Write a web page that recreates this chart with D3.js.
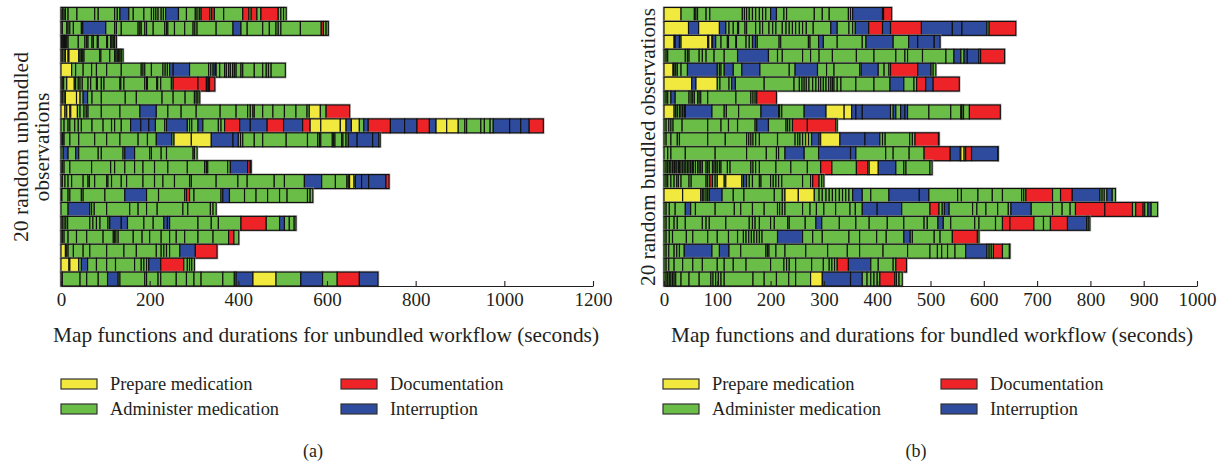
<!DOCTYPE html>
<html><head><meta charset="utf-8">
<script src="https://cdn.jsdelivr.net/npm/d3@7"></script>
<style>
body{margin:0;background:#fff}
svg{display:block}
text{font-family:"Liberation Serif","Times New Roman",serif;fill:#231f20}
</style>
</head><body>
<svg id="c" width="1230" height="466"></svg>
<script>
// ---------- DATA ----------
const categories = ["Prepare medication", "Administer medication", "Documentation", "Interruption"];
const categoryCodes = ["P", "A", "D", "I"];
const categoryColors = ["#F1E93D", "#6ABD46", "#ED2327", "#2E4B9E"];

const unbundledTicks = [0, 200, 400, 600, 800, 1000, 1200];
const bundledTicks = [0, 100, 200, 300, 400, 500, 600, 700, 800, 900, 1000];

// each token: activity code + end time (seconds); a segment starts where the previous one ended
const unbundledRows = [
"A3 A7 A10 A16 A36 A76 A84 A121 A127 A133 I153 A163 A187 A204 A209 A214 A219 A226 A231 A236 I265 A283 A303 A307 A312 A316 D336 A340 D346 A367 A410 D424 A429 D442 A451 D490 A496 A502 A508",
"A3 A13 A16 A20 A28 A46 A49 I101 A121 A125 A136 A174 A178 A181 A189 A193 A208 A234 A238 A241 A256 A279 A298 A302 A307 A350 A388 I406 A420 A455 A470 A485 A490 A496 A540 A587 D592 A598 A603",
"A2 A4 A6 A8 A10 A13 A16 A39 A54 A58 A61 A70 A73 A82 A84 A103 A105 A112 A115 A118 A121 A125",
"A3 P7 A10 P16 A18 P40 A43 A46 A49 A52 A87 A90 A110 A121 A124 A127 A130 A133 A136 A140",
"P24 A33 A50 A69 A80 A103 A136 A181 A185 A189 A204 A230 A235 A240 A245 I253 I290 A333 A338 A343 I348 A350 A358 A369 A373 A378 A382 A387 A391 A395 A406 A410 A436 A455 A463 A468 A474 A506",
"A3 P6 A13 P30 A33 A39 A43 A48 A61 A67 A80 A82 A91 A97 A133 A135 A142 A189 A193 A195 A216 A218 A225 A249 A253 D309 D328 A330 P333 A335 D347",
"A3 P7 A10 P35 P43 A50 I60 A70 A91 A145 A170 A228 A253 A280 A301 A305 A309 A313",
"P9 A13 P20 A22 P37 A43 A52 A57 A61 A91 A133 A178 I215 A241 A271 A305 A359 A395 A421 A427 A433 A436 A455 A478 A504 A530 A555 A560 P585 A598 D651",
"A7 A16 A20 A31 A39 A46 A70 A95 A114 A121 A136 A157 I180 I198 I213 A234 A238 I285 A290 A295 A309 I320 A355 A361 A369 D403 I427 I465 D502 I545 D562 P586 P630 P643 I655 P673 A683 I693 D743 I775 I803 D831 I846 P870 P896 A911 A915 A947 A955 A968 A975 I1012 I1037 I1056 D1088",
"A3 I7 A20 A40 A76 A103 A133 A174 A195 A215 I250 A255 P294 P339 I388 I400 A405 A410 A436 A455 A508 A556 A579 A583 A586 A612 A615 A618 A633 A636 A643 A648 I668 I703 I717 A720",
"A5 I16 A33 I40 A84 A91 A140 A144 I166 A200 A204 A226 A238 A298 A301 A307",
"A3 A7 A20 A69 A112 A121 A144 A166 A185 A211 A241 A285 A324 A328 A331 A376 A382 I421 D427 A429",
"A3 A9 A16 A24 A50 A61 A64 A76 A103 A106 A114 A136 A148 A185 A211 A230 A256 A290 A294 A350 A399 A420 A481 A504 A549 I588 A619 A645 A648 A651 P661 A664 I678 I694 I733 D740",
"A2 A16 A20 A46 A50 A99 A144 I193 A220 A279 A283 D290 A300 A361 A365 I380 A414 A440 A466 A493 A510 A556 A562 A568",
"A16 I65 A69 A75 A103 A155 A174 A193 A217 A275 A286 A337 A343 A350",
"A3 P7 A11 A15 A65 A72 A80 A88 A106 A110 I136 I150 A187 A208 A232 I240 I245 A309 A339 A355 A406 D463 A493 I504 A515 A526 A530",
"A3 A7 A16 A35 A58 A95 A118 A121 P124 A129 A163 A183 A200 A226 A245 A260 A279 A309 A343 A378 D390 A401",
"P10 A13 P16 A28 A50 A65 A103 A142 A170 A215 A226 A232 A238 A245 A268 I303 D352",
"P18 A20 P40 A46 I60 A80 A103 A123 A166 A181 A187 A193 A198 I225 D277 A285 A290 A295 A301",
"A3 A43 A58 A84 A105 I129 A133 A189 A193 A219 A225 A260 A283 A300 A316 A365 A391 A395 I433 P485 A541 I590 A623 D673 I715"
];

const bundledRows = [
"P32 A57 A60 A63 A79 A86 A147 A151 A155 A160 A166 A172 A179 A185 A191 A200 I211 A225 A230 A282 A297 A310 A346 A350 A354 I410 A412 D427",
"P46 I65 P104 I116 A122 A130 A138 A140 A152 A155 A172 A180 A185 A197 A204 A210 A222 A229 A235 A241 A247 A254 A260 A267 A280 A313 I325 A347 A354 A359 I384 D410 I425 D483 I541 I559 I606 A610 D660",
"P19 A21 I29 A32 P82 A84 P90 A91 I97 A107 A119 A121 A135 A136 A154 A160 A166 I172 A175 A216 A219 A271 A274 A290 I299 A325 A372 A379 I430 A459 I476 I507 I518",
"A4 A7 A40 A44 A47 A66 A72 A79 A94 A113 A138 I196 A213 A222 A260 A275 A291 A316 A361 A394 A435 A452 A457 A485 A529 A544 I557 A563 I569 I591 A594 D639",
"P17 A19 A22 A25 A32 A44 I100 A104 A107 A113 I130 A146 I180 A235 A246 I288 A305 A319 A367 A370 I402 A413 A422 A425 D476 I501 A505 A510",
"P52 I60 P100 A105 A122 A127 I134 A188 A244 A254 A259 A263 A267 A272 A279 A285 A290 A294 A299 A304 A309 A313 A316 A319 A325 A332 A360 A394 A424 I450 A469 A474 D491 I505 D554",
"A4 A7 A13 I21 A47 A51 A54 A57 A63 A66 A69 A82 A135 A163 A167 A171 A174 D211",
"P19 A22 A25 A29 A32 A35 A38 A40 I90 A113 A117 A140 A182 I215 A217 A221 A263 I304 P338 P352 I360 I372 I425 A430 I435 A444 I452 I457 A497 A538 A557 A559 A562 A573 D631",
"A4 A9 A13 A17 A34 A82 A107 A121 A138 A171 A174 I196 A229 A232 A236 A241 D269 D322 A325",
"A4 A13 A25 A29 A82 A115 A155 A159 A163 A167 A172 A179 A213 A246 A251 A255 A260 A266 P271 A277 I291 A294 P330 I377 I405 A410 A415 A461 A466 A471 D515 A516",
"A7 A13 A40 A96 A155 A192 A211 A215 A227 I263 A290 I350 I360 A416 A430 A460 A488 D537 I556 A557 P563 A566 D577 I626 A627",
"A4 A7 A10 A13 A16 A19 A21 A24 A27 A29 A32 A35 A38 A41 A44 A47 A50 A53 A55 A59 A63 A66 A69 A72 A79 A82 A85 A91 A94 A97 A100 A104 A107 A119 A124 A163 A167 A172 A179 A210 A238 A269 A294 D315 A361 D382 A385 P402 I435 A450 A454 A499 A503",
"A4 A7 A13 A19 A24 A27 A32 A47 A51 A79 A82 A86 D91 A96 A100 P113 A116 P146 A149 I155 A160 A166 A179 A182 A200 A205 A210 A215 A221 A260 A275 A279 D291 A296 A300",
"P35 P69 A72 A75 A79 A82 A85 I109 A130 A150 A207 A222 A227 P252 P282 A291 A297 A304 A310 A316 A322 A329 A335 A341 A347 A354 I372 A388 A422 I479 I497 A551 A558 A589 A616 A635 A671 A675 A679 D729 A744 D766 I818 A822 A826 A831 I841 A847",
"A4 A10 A21 A40 I50 A59 A96 A132 A144 A166 A188 A213 A217 A222 A227 A260 A274 A286 A300 A322 A349 A359 A372 I400 I446 A499 D516 A522 A526 I535 A579 A587 A604 A626 A646 A651 I689 A729 A747 A762 A772 D827 D879 A885 D899 A902 A908 I914 A926",
"A4 A10 A19 A25 A40 A72 A79 A85 A116 A160 A166 A171 A179 A200 A207 A232 A235 A265 A285 I296 A329 A360 A385 A419 A450 A488 A494 A514 I524 A538 A583 A591 A622 A635 D649 D694 A712 A725 D757 I793 A796 A799",
"A4 A10 A16 A42 A54 A82 A100 A121 A138 A149 A154 A159 A164 A169 A174 A179 A184 A213 I260 A279 A297 A347 A367 A399 A417 A450 I462 A466 A507 A518 A541 D588 A591",
"A4 A9 A19 A24 A29 A38 I90 A104 I122 A144 A191 A194 A197 A210 A227 A266 A307 A344 A367 A411 A457 A499 A513 A521 A532 A546 A566 I606 A610 A614 A618 D635 A648 A649",
"A4 A9 A19 A35 A54 A72 A100 A113 A130 A154 A200 A225 A230 A235 A247 A277 A299 A310 A315 A320 A325 D346 I388 A402 A430 A435 D455",
"A4 A7 A10 A13 A16 A19 A22 A32 A47 A66 A88 A92 A97 A102 A107 A113 A167 A188 A211 A234 A247 A275 P297 I350 I372 A381 A388 A394 A400 A405 D433 A436 A441 A447"
];

// ---------- DRAWING ----------
const svg = d3.select("#c");
const colorOf = d3.scaleOrdinal().domain(categoryCodes).range(categoryColors);

function parseRow(str) {
  let prev = 0;
  return str.split(" ").map(tok => {
    const seg = { code: tok[0], start: prev, end: +tok.slice(1) };
    prev = seg.end;
    return seg;
  });
}

function drawPanel(cfg) {
  const g = svg.append("g");
  const x = d3.scaleLinear().domain(cfg.domain).range(cfg.range);
  const y = d3.scaleBand().domain(d3.range(cfg.rows.length)).range([7.5, 286]).paddingInner(0);
  const rows = cfg.rows.map(parseRow);

  const rowG = g.selectAll("g.row").data(rows).join("g").attr("class", "row")
    .attr("transform", (d, i) => `translate(0,${y(i)})`);

  // soft halo around each bar
  rowG.append("rect")
    .attr("x", x(0)).attr("y", 0)
    .attr("width", d => x(d[d.length - 1].end) - x(0))
    .attr("height", y.bandwidth())
    .attr("fill", "none").attr("stroke", "#9a9a9a").attr("stroke-width", 2.6).attr("stroke-opacity", 0.7);

  rowG.selectAll("rect.seg").data(d => d).join("rect").attr("class", "seg")
    .attr("x", d => x(d.start))
    .attr("y", 0)
    .attr("width", d => Math.max(0, x(d.end) - x(d.start)))
    .attr("height", y.bandwidth())
    .attr("fill", d => colorOf(d.code))
    .attr("stroke", "#111").attr("stroke-width", 1.15);

  // axis
  const axis = d3.axisBottom(x).tickValues(cfg.ticks).tickFormat(d3.format("d"))
    .tickSizeInner(-5).tickSizeOuter(0).tickPadding(7);
  const ag = g.append("g").attr("transform", "translate(0,286)").call(axis);
  ag.select(".domain").attr("stroke", "#231f20").attr("stroke-width", 1.1);
  ag.selectAll(".tick line").attr("stroke", "#231f20").attr("stroke-width", 1.1);
  ag.selectAll(".tick text").attr("font-size", 19).attr("font-family", "Liberation Serif, serif").attr("fill", "#231f20");

  // x label
  g.append("text").attr("x", cfg.xLabelX).attr("y", 342).attr("text-anchor", "middle")
    .attr("font-size", 21).attr("textLength", cfg.xLabelLen).attr("lengthAdjust", "spacingAndGlyphs")
    .text(cfg.xLabel);

  // y label
  cfg.yLabel.forEach((line, i) => {
    g.append("text").attr("transform", `translate(${cfg.yLabelX[i]},147) rotate(-90)`)
      .attr("text-anchor", "middle").attr("font-size", 20.5)
      .attr("textLength", cfg.yLabelLen[i]).attr("lengthAdjust", "spacingAndGlyphs")
      .text(line);
  });

  // legend
  const order = [[0, 0, 0], [1, 0, 1], [2, 1, 0], [3, 1, 1]];
  order.forEach(([ci, col, row]) => {
    const lx = cfg.legendX[col], ly = 379 + row * 25;
    g.append("rect").attr("x", lx).attr("y", ly).attr("width", 36).attr("height", 10)
      .attr("fill", categoryColors[ci]).attr("stroke", "#333").attr("stroke-width", 1.2);
    g.append("text").attr("x", lx + 49).attr("y", ly + 11).attr("font-size", 18.4).text(categories[ci]);
  });

  g.append("text").attr("x", cfg.captionX).attr("y", 457).attr("text-anchor", "middle")
    .attr("font-size", 18).text(cfg.caption);
}

drawPanel({
  domain: [0, 1200], range: [61, 593], ticks: unbundledTicks, rows: unbundledRows,
  xLabel: "Map functions and durations for unbundled workflow (seconds)", xLabelX: 326, xLabelLen: 546,
  yLabel: ["20 random unbundled", "observations"], yLabelX: [28, 49], yLabelLen: [190, 109],
  legendX: [61, 341], caption: "(a)", captionX: 313
});
drawPanel({
  domain: [0, 1000], range: [664, 1197], ticks: bundledTicks, rows: bundledRows,
  xLabel: "Map functions and durations for bundled workflow (seconds)", xLabelX: 932, xLabelLen: 522,
  yLabel: ["20 random bundled observations"], yLabelX: [655], yLabelLen: [278],
  legendX: [663, 941], caption: "(b)", captionX: 916
});
</script>
</body></html>
